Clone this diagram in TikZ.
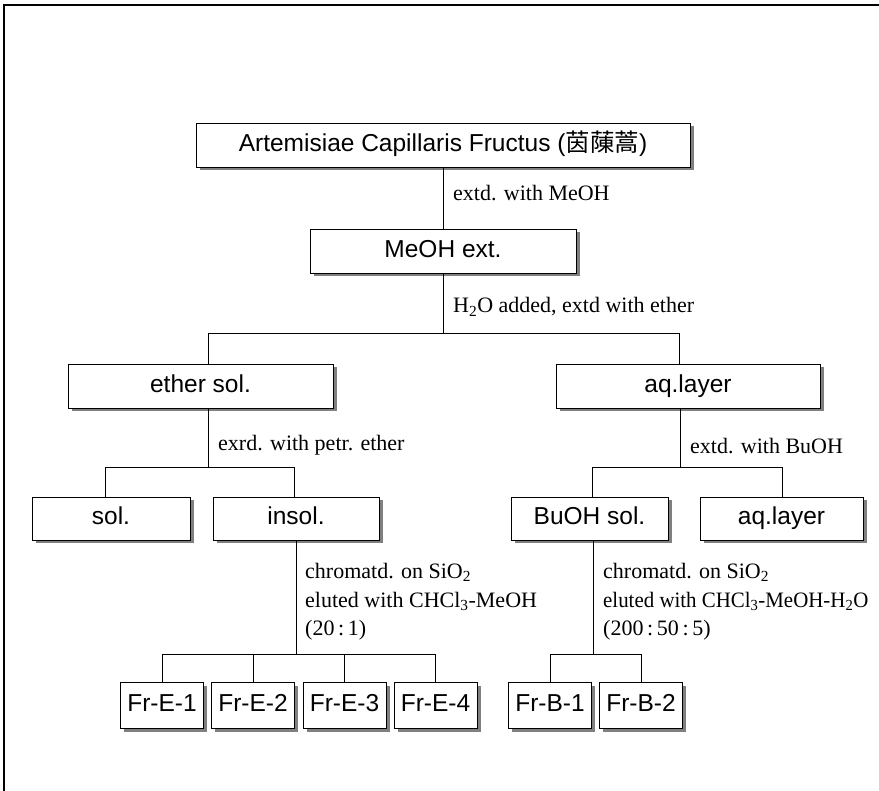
\documentclass[tikz,border=0pt]{standalone}
\usepackage{fontspec}
\usepackage{graphicx}
\setmainfont{Liberation Serif}
\newfontfamily\boxfont{Liberation Sans}
\newfontfamily\cjk{Noto Sans CJK TC}
\usetikzlibrary{shadows}
\newcommand{\lowsub}[1]{\textsubscript{#1}}
\tikzset{
  bx/.style={draw=black, line width=0.9pt, fill=white, inner sep=0pt,
    text height=18pt, text depth=5pt,
    font=\boxfont\fontsize{24.5}{26}\selectfont,
    drop shadow={shadow xshift=3.5pt, shadow yshift=-3.5pt, fill=black!50, opacity=1}},
  fr/.style={bx, minimum width=83pt, minimum height=46pt},
  lbl/.style={anchor=west, inner sep=0pt, font=\fontsize{22}{28.5}\selectfont, align=left},
  con/.style={draw=black, line width=0.8pt}
}
\begin{document}
\begin{tikzpicture}[x=1pt, y=-1pt]
\useasboundingbox (0,0) rectangle (879,791);
\fill[white] (0,0) rectangle (879,791);
% frame
\draw[line width=1.8pt] (3,5) -- (879,5);
\draw[line width=1.3pt] (4,5) -- (4,791);

% boxes
\node[bx, minimum width=494pt, minimum height=44pt] (A) at (443,145) {Artemisiae Capillaris Fructus ({\cjk 茵蔯蒿})};
\node[bx, minimum width=266pt, minimum height=44pt] (M) at (443,251) {MeOH ext.};
\node[bx, minimum width=265pt, minimum height=44pt] (ES) at (200.5,386) {ether sol.};
\node[bx, minimum width=264pt, minimum height=44pt] (AQ1) at (688,386) {aq.layer};
\node[bx, minimum width=158pt, minimum height=43pt] (SOL) at (111,518.5) {sol.};
\node[bx, minimum width=166pt, minimum height=43pt] (INS) at (296,518.5) {insol.};
\node[bx, minimum width=157pt, minimum height=43pt] (BU) at (589.5,518.5) {BuOH sol.};
\node[bx, minimum width=163pt, minimum height=43pt] (AQ2) at (781.5,518.5) {aq.layer};
\node[fr] (E1) at (162,705) {Fr-E-1};
\node[fr] (E2) at (253,705) {Fr-E-2};
\node[fr] (E3) at (344.5,705) {Fr-E-3};
\node[fr] (E4) at (435.5,705) {Fr-E-4};
\node[fr] (B1) at (550,705) {Fr-B-1};
\node[fr] (B2) at (641,705) {Fr-B-2};

% junction coordinates
\coordinate (j1) at (443,333);
\coordinate (j1l) at (208,333);
\coordinate (j1r) at (679,333);
\coordinate (j2) at (208,467);
\coordinate (j2l) at (105,467);
\coordinate (j2r) at (294,467);
\coordinate (j3) at (680,467);
\coordinate (j3l) at (592,467);
\coordinate (j3r) at (782,467);
\coordinate (j4) at (296,654);
\coordinate (j4l) at (162,654);
\coordinate (j4r) at (435.5,654);
\coordinate (j5) at (593,654);
\coordinate (j5l) at (550,654);
\coordinate (j5r) at (641,654);

% connectors
\draw[con] (A.south) -- (M.north);
\draw[con] (M.south) -- (j1);
\draw[con] (j1l |- ES.north) -- (j1l) -- (j1r) -- (j1r |- AQ1.north);
\draw[con] (j2 |- ES.south) -- (j2);
\draw[con] (j2l |- SOL.north) -- (j2l) -- (j2r) -- (j2r |- INS.north);
\draw[con] (j3 |- AQ1.south) -- (j3);
\draw[con] (j3l |- BU.north) -- (j3l) -- (j3r) -- (j3r |- AQ2.north);
\draw[con] (j4 |- INS.south) -- (j4);
\draw[con] (E1.north) -- (j4l) -- (j4r) -- (E4.north);
\draw[con] (E2.north) -- (E2.north |- j4);
\draw[con] (E3.north) -- (E3.north |- j4);
\draw[con] (j5 |- BU.south) -- (j5);
\draw[con] (B1.north) -- (j5l) -- (j5r) -- (B2.north);

% labels
\node[lbl] (L1) at (453,193) {extd. with MeOH};
\node[lbl] (L2) at (453,307) {H\lowsub{2}O added, extd with ether};
\node[lbl] (L3) at (218,445) {exrd. with petr. ether};
\node[lbl] (L4) at (690,446) {extd. with BuOH};
\node[lbl] (L5) at (305,602) {chromatd. on SiO\lowsub{2}\\eluted with CHCl\lowsub{3}-MeOH\\(20\,:\,1)};
\node[lbl] (L6) at (603,602) {chromatd. on SiO\lowsub{2}\\\scalebox{0.95}[1]{eluted with CHCl\lowsub{3}-MeOH-H\lowsub{2}O}\\(200\,:\,50\,:\,5)};
\end{tikzpicture}
\end{document}
